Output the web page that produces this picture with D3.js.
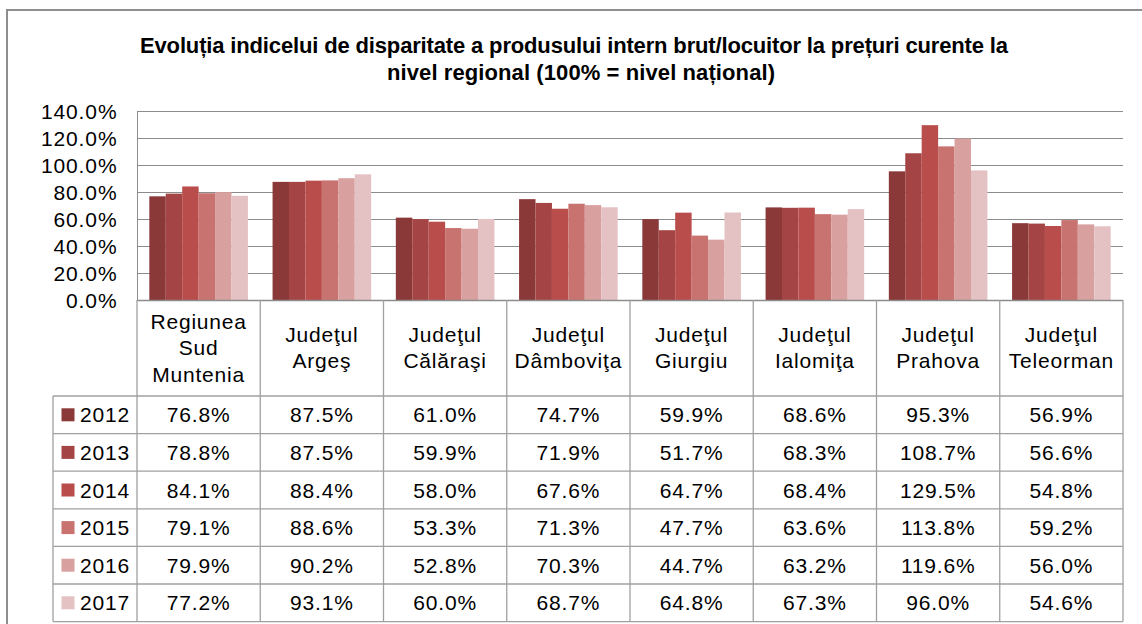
<!DOCTYPE html>
<html>
<head>
<meta charset="utf-8">
<script src="https://cdn.jsdelivr.net/npm/d3@7"></script>
<style>
  body { margin: 0; background: #fff; }
  svg text { font-family: "Liberation Sans", Arial, sans-serif; fill: #000; }
</style>
</head>
<body>
<script>
// categories (header of the data table)
var categories = [
  ["Regiunea", "Sud", "Muntenia"],
  ["Judeţul", "Argeş"],
  ["Judeţul", "Călăraşi"],
  ["Judeţul", "Dâmboviţa"],
  ["Judeţul", "Giurgiu"],
  ["Judeţul", "Ialomiţa"],
  ["Judeţul", "Prahova"],
  ["Judeţul", "Teleorman"]
];
var years = ["2012", "2013", "2014", "2015", "2016", "2017"];
var colors = ["#8a3838", "#a54444", "#b84d4b", "#c87370", "#d8a09f", "#e4c2c3"];

// values per year, in %
var v2012 = [76.8, 87.5, 61.0, 74.7, 59.9, 68.6, 95.3, 56.9];
var v2013 = [78.8, 87.5, 59.9, 71.9, 51.7, 68.3, 108.7, 56.6];
var v2014 = [84.1, 88.4, 58.0, 67.6, 64.7, 68.4, 129.5, 54.8];
var v2015 = [79.1, 88.6, 53.3, 71.3, 47.7, 63.6, 113.8, 59.2];
var v2016 = [79.9, 90.2, 52.8, 70.3, 44.7, 63.2, 119.6, 56.0];
var v2017 = [77.2, 93.1, 60.0, 68.7, 64.8, 67.3, 96.0, 54.6];
var series = [v2012, v2013, v2014, v2015, v2016, v2017];

var yTicks = [0, 20, 40, 60, 80, 100, 120, 140];

var W = 1142, H = 624;
var plotLeft = 137, plotRight = 1123, plotTop = 111, plotBottom = 300;
var rowH = 37.6, headerBottom = 396, legendLeft = 53;
var gridCol = "#8c8c8c", lineCol = "#a0a0a0";

var svg = d3.select("body").append("svg")
    .attr("width", W).attr("height", H);

// outer frame
svg.append("rect").attr("x", 7).attr("y", 10).attr("width", 1160).attr("height", 640)
    .attr("fill", "#fff").attr("stroke", "#8e8e8e").attr("stroke-width", 2);

// title
var title = svg.append("text").attr("text-anchor", "middle")
    .style("font-weight", "bold").style("font-size", "22px");
title.append("tspan").attr("x", 574).attr("y", 53)
    .attr("textLength", 868).attr("lengthAdjust", "spacing")
    .text("Evoluția indicelui de disparitate a produsului intern brut/locuitor la prețuri curente la");
title.append("tspan").attr("x", 581).attr("y", 80)
    .attr("textLength", 388).attr("lengthAdjust", "spacing")
    .text("nivel regional (100% = nivel național)");

var x0 = d3.scaleBand().domain(d3.range(categories.length))
    .range([plotLeft, plotRight]).paddingInner(0.2).paddingOuter(0.1);
var x1 = d3.scaleBand().domain(d3.range(years.length)).range([0, x0.bandwidth()]);
var y = d3.scaleLinear().domain([0, 140]).range([plotBottom, plotTop]);

// gridlines
svg.append("g").selectAll("line").data(yTicks.slice(1)).enter().append("line")
    .attr("x1", plotLeft).attr("x2", plotRight)
    .attr("y1", function(d){ return y(d) + 0.5; }).attr("y2", function(d){ return y(d) + 0.5; })
    .attr("stroke", gridCol).attr("stroke-width", 1);

// y axis
var yAxis = svg.append("g").attr("transform", "translate(" + (plotLeft + 0.5) + ",0)")
    .call(d3.axisLeft(y).tickValues(yTicks).tickSize(0).tickPadding(20)
      .tickFormat(function(d){ return d3.format(".1f")(d) + "%"; }));
yAxis.select(".domain").attr("stroke", gridCol).attr("d", "M0," + plotTop + "V" + plotBottom);
yAxis.selectAll("text").style("font-size", "21px").style("letter-spacing", "0.9px")
    .style("font-family", "'Liberation Sans', Arial, sans-serif").attr("fill", "#000")
    .attr("dy", "0.36em");

// bars
var groups = svg.append("g").selectAll("g").data(categories).enter().append("g")
    .attr("transform", function(d, i){ return "translate(" + x0(i) + ",0)"; });
groups.selectAll("rect").data(function(d, i){
    return series.map(function(s, k){ return {k: k, v: s[i]}; });
  }).enter().append("rect")
    .attr("x", function(d){ return x1(d.k); })
    .attr("width", x1.bandwidth())
    .attr("y", function(d){ return y(d.v); })
    .attr("height", function(d){ return y(0) - y(d.v); })
    .attr("fill", function(d){ return colors[d.k]; });

// data table
var step = x0.step();
function colLeft(i){ return x0(i) - step * x0.paddingOuter(); }
var tbl = svg.append("g").attr("stroke", lineCol).attr("stroke-width", 1.3);
tbl.append("line").attr("x1", plotLeft).attr("x2", plotRight)
    .attr("y1", plotBottom + 0.5).attr("y2", plotBottom + 0.5).attr("stroke", gridCol);
for (var r = 0; r <= years.length; r++) {
  var yy = headerBottom + r * rowH;
  tbl.append("line").attr("x1", legendLeft).attr("x2", plotRight).attr("y1", yy).attr("y2", yy);
}
var tableBottom = headerBottom + years.length * rowH;
tbl.append("line").attr("x1", legendLeft).attr("x2", legendLeft)
    .attr("y1", headerBottom).attr("y2", tableBottom);
for (var c = 0; c <= categories.length; c++) {
  var xx = c < categories.length ? colLeft(c) : plotRight;
  tbl.append("line").attr("x1", xx).attr("x2", xx).attr("y1", plotBottom).attr("y2", tableBottom);
}

// header labels
var hdr = svg.append("g").selectAll("text").data(categories).enter().append("text")
    .attr("text-anchor", "middle").style("font-size", "21px").style("letter-spacing", "0.8px");
hdr.each(function(lines, i){
  var t = d3.select(this), cx = x0(i) + x0.bandwidth() / 2;
  lines.forEach(function(s, j){
    t.append("tspan").attr("x", cx).attr("y", 355 + (j - (lines.length - 1) / 2) * 26.5).text(s);
  });
});

// rows: legend keys and values
years.forEach(function(yr, k){
  var cy = headerBottom + k * rowH + rowH / 2;
  svg.append("rect").attr("x", 61.5).attr("y", cy - 6.5).attr("width", 13).attr("height", 13)
      .attr("fill", colors[k]);
  svg.append("text").attr("x", 80).attr("y", cy + 7.5)
      .style("font-size", "21px").style("letter-spacing", "0.8px").text(yr);
  svg.append("g").selectAll("text").data(series[k]).enter().append("text")
      .attr("text-anchor", "middle")
      .attr("x", function(d, i){ return x0(i) + x0.bandwidth() / 2; })
      .attr("y", cy + 7.5)
      .style("font-size", "21px").style("letter-spacing", "0.8px")
      .text(function(d){ return d.toFixed(1) + "%"; });
});
</script>
</body>
</html>
